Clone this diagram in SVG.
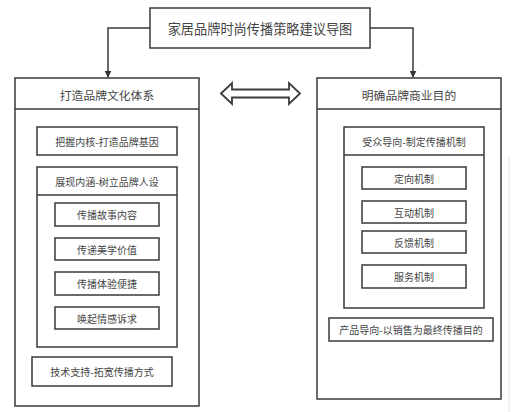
<svg xmlns="http://www.w3.org/2000/svg" width="513" height="412" viewBox="0 0 513 412">
<defs>
<style>
rect{fill:#fff;stroke:#3a3a3a;stroke-width:1.5}
line.d{stroke:#3a3a3a;stroke-width:1.5}
text{font-family:"Noto Sans CJK SC","Liberation Sans",sans-serif;fill:#444;text-anchor:middle;dominant-baseline:central}
.t0{font-size:13.2px}
.t1{font-size:11.8px}
.t2{font-size:10px}
.c{fill:none;stroke:#3a3a3a;stroke-width:1.5}
</style>
<marker id="ah" viewBox="0 0 10 10" refX="9" refY="5" markerWidth="7" markerHeight="7" markerUnits="userSpaceOnUse" orient="auto"><path d="M0,0 L10,5 L0,10 z" fill="#333"/></marker>
</defs>
<rect x="0" y="0" width="513" height="412" style="fill:#fff;stroke:none"/>
<line x1="509" y1="157" x2="509" y2="412" style="stroke:#e2e2e2;stroke-width:1"/>
<g id="connectors">
<polyline class="c" points="150,28 108,28 108,77" marker-end="url(#ah)"/>
<polyline class="c" points="370,28 413,28 413,77" marker-end="url(#ah)"/>
<polygon class="c" style="fill:#fff;stroke-width:1.8" points="221,93.5 232,83 232,89.5 289,89.5 289,83 300,93.5 289,104 289,97.5 232,97.5 232,104"/>
</g>
<g id="root">
<rect x="150" y="8" width="220" height="40"/>
<text class="t0" x="260" y="28">家居品牌时尚传播策略建议导图</text>
</g>
<g id="left">
<rect x="15" y="78" width="184" height="328"/>
<line class="d" x1="15" y1="109" x2="199" y2="109"/>
<text class="t1" x="107" y="94">打造品牌文化体系</text>
</g>
<g id="l1">
<rect x="37" y="127" width="140" height="28"/>
<text class="t2" x="107" y="141">把握内核-打造品牌基因</text>
</g>
<g id="l2">
<rect x="37" y="167" width="140" height="180"/>
<line class="d" x1="37" y1="195" x2="177" y2="195"/>
<text class="t2" x="107" y="181">展现内涵-树立品牌人设</text>
</g>
<g id="l2a"><rect x="55" y="203" width="104" height="23"/><text class="t2" x="107" y="214.5">传播故事内容</text></g>
<g id="l2b"><rect x="55" y="238" width="104" height="22"/><text class="t2" x="107" y="249">传递美学价值</text></g>
<g id="l2c"><rect x="55" y="272" width="104" height="23"/><text class="t2" x="107" y="283.5">传播体验便捷</text></g>
<g id="l2d"><rect x="55" y="307" width="104" height="22"/><text class="t2" x="107" y="318">唤起情感诉求</text></g>
<g id="l3">
<rect x="32" y="357" width="140" height="29"/>
<text class="t2" x="102" y="371.5">技术支持-拓宽传播方式</text>
</g>
<g id="right">
<rect x="317" y="78" width="184" height="321"/>
<line class="d" x1="317" y1="109" x2="501" y2="109"/>
<text class="t1" x="409" y="94">明确品牌商业目的</text>
</g>
<g id="r1">
<rect x="344" y="127" width="140" height="181"/>
<line class="d" x1="344" y1="155" x2="484" y2="155"/>
<text class="t2" x="414" y="141">受众导向-制定传播机制</text>
</g>
<g id="r1a"><rect x="362" y="167" width="104" height="22"/><text class="t2" x="414" y="178">定向机制</text></g>
<g id="r1b"><rect x="362" y="201" width="104" height="22"/><text class="t2" x="414" y="212">互动机制</text></g>
<g id="r1c"><rect x="362" y="231" width="104" height="22"/><text class="t2" x="414" y="242">反馈机制</text></g>
<g id="r1d"><rect x="362" y="265" width="104" height="23"/><text class="t2" x="414" y="276.5">服务机制</text></g>
<g id="r2">
<rect x="329" y="318" width="164" height="23"/>
<text class="t2" x="411" y="329.5">产品导向-以销售为最终传播目的</text>
</g>
</svg>
